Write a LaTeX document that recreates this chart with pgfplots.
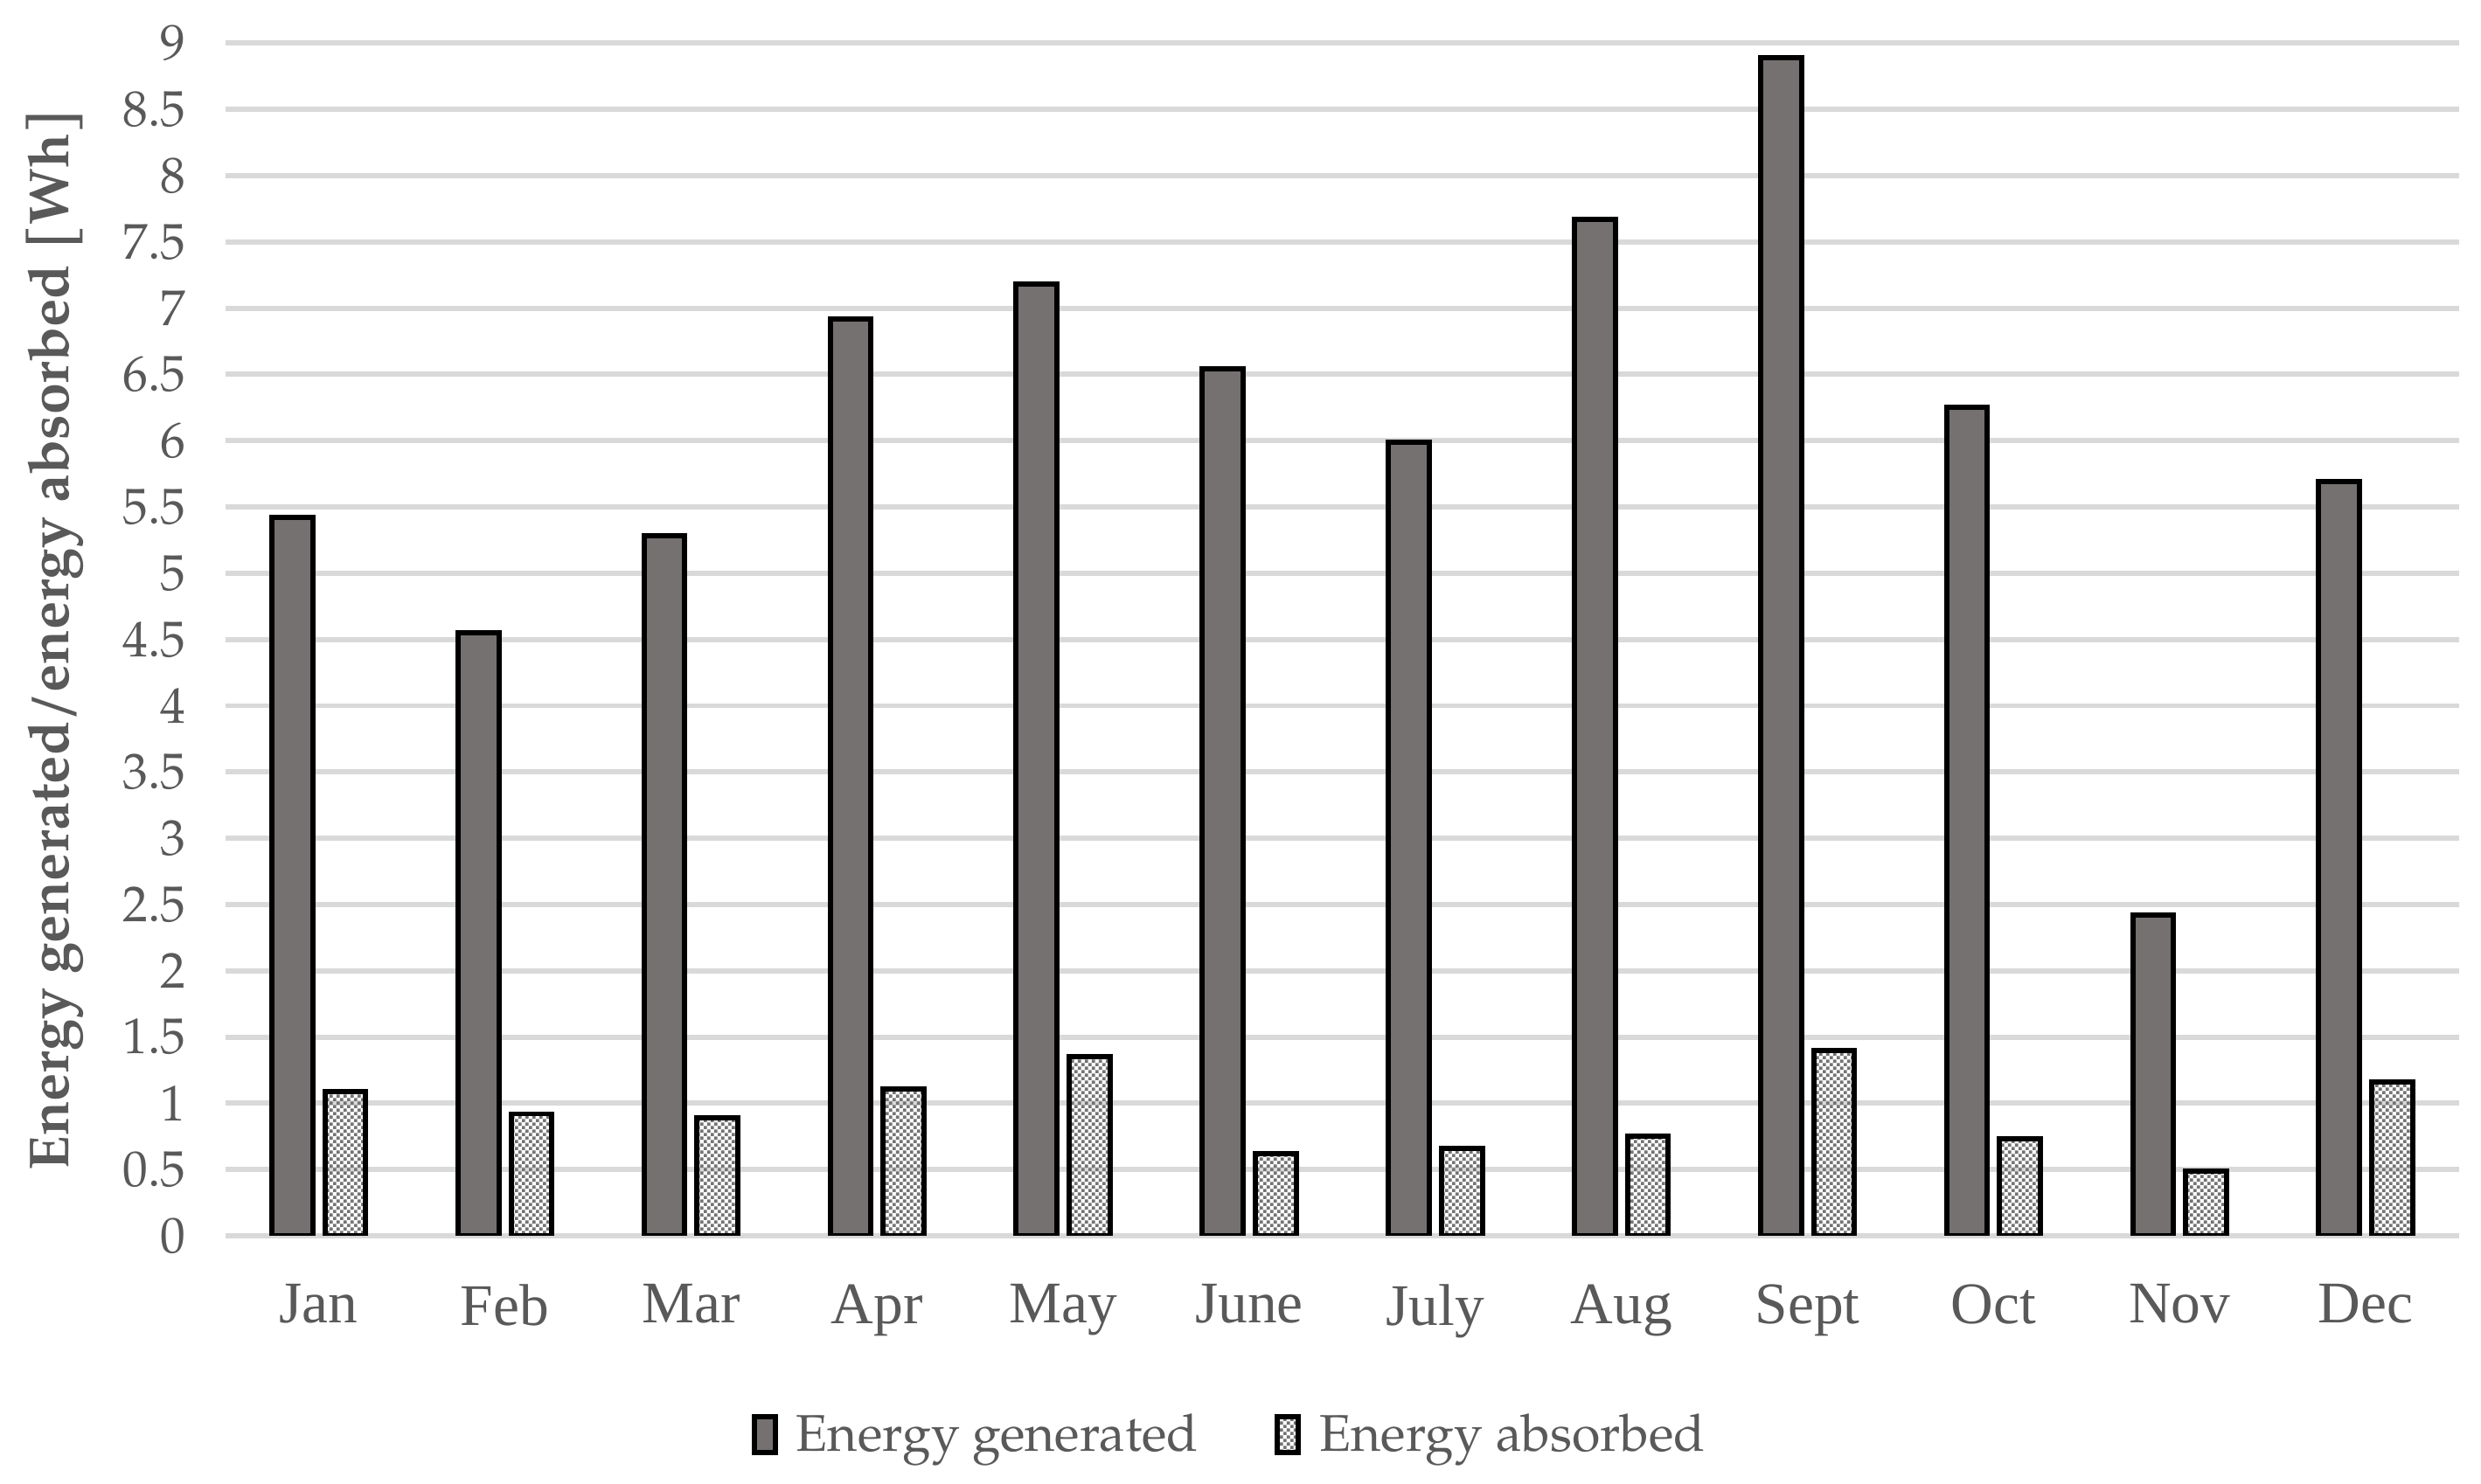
\documentclass[border=0pt]{standalone}
\usepackage{fontspec}
\setmainfont{texgyrepagella}[Extension=.otf, UprightFont=*-regular, BoldFont=*-bold, ItalicFont=*-italic, BoldItalicFont=*-bolditalic]
\newfontfamily\timesfont{Liberation Serif}
\usepackage{pgfplots}
\pgfplotsset{compat=1.18}
\usetikzlibrary{patterns}
\definecolor{gengray}{HTML}{757170}
\definecolor{txtgray}{HTML}{595959}
\definecolor{gridgray}{HTML}{D9D9D9}
\definecolor{dotgray}{HTML}{737373}
\pgfdeclarepatternformonly{mydots}{\pgfpointorigin}{\pgfpoint{1.6pt}{1.6pt}}{\pgfpoint{1.6pt}{1.6pt}}{%
  \pgfpathrectangle{\pgfpoint{0pt}{0pt}}{\pgfpoint{0.75pt}{0.75pt}}%
  \pgfpathrectangle{\pgfpoint{0.8pt}{0.8pt}}{\pgfpoint{0.75pt}{0.75pt}}%
  \pgfusepath{fill}}
\pgfplotstableread{
x gen abs
0 5.42 1.09
1 4.55 0.92
2 5.28 0.89
3 6.92 1.11
4 7.18 1.35
5 6.54 0.62
6 5.99 0.66
7 7.67 0.75
8 8.89 1.40
9 6.25 0.73
10 2.42 0.49
11 5.69 1.16
}\datatable
\begin{document}
\begin{tikzpicture}
\begin{axis}[
  scale only axis,
  width=18.1cm, height=9.67cm,
  ybar=0.099cm, bar width=0.331cm,
  xmin=-0.5, xmax=11.5,
  ymin=0, ymax=9,
  ytick={0,0.5,...,9},
  yticklabels={0,0.5,1,1.5,2,2.5,3,3.5,4,4.5,5,5.5,6,6.5,7,7.5,8,8.5,9},
  xtick=data,
  xticklabels={Jan,Feb,Mar,Apr,May,June,July,Aug,Sept,Oct,Nov,Dec},
  x tick label style={font=\timesfont\fontsize{13.6}{15}\selectfont, text=txtgray, yshift=-0.27cm},
  y tick label style={font=\fontsize{11.6}{13}\selectfont, text=txtgray, xshift=-0.2cm},
  major tick length=0pt,
  axis line style={draw=none},
  ymajorgrids, grid style={gridgray, line width=1.2pt},
  ylabel={\textbf{Energy generated/energy absorbed [Wh]}},
  ylabel style={at={(axis description cs:-0.0765,0.5)}, anchor=center,
    font=\fontsize{13}{15}\selectfont, text=txtgray},
  legend style={draw=none, at={(0.451,-0.168)}, anchor=center, legend columns=2,
    font=\fontsize{11.9}{13}\selectfont, text=txtgray,
    /tikz/every odd column/.append style={column sep=0.08cm},
    /tikz/every even column/.append style={column sep=0.55cm}},
  legend image code/.code={\draw[#1, line width=1.2pt] (0cm,-0.13cm) rectangle (0.17cm,0.16cm);},
  legend cell align=left,
]
\addplot[draw=black, line width=1.2pt, fill=gengray] table[x=x, y=gen] {\datatable};
\addplot[draw=black, line width=1.2pt, pattern=mydots, pattern color=dotgray] table[x=x, y=abs] {\datatable};
\legend{Energy generated, Energy absorbed}
\end{axis}
\path ([shift={(-1.83cm,-2.01cm)}]current axis.south west) rectangle ([shift={(0.18cm,0.35cm)}]current axis.north east);
\end{tikzpicture}
\end{document}
